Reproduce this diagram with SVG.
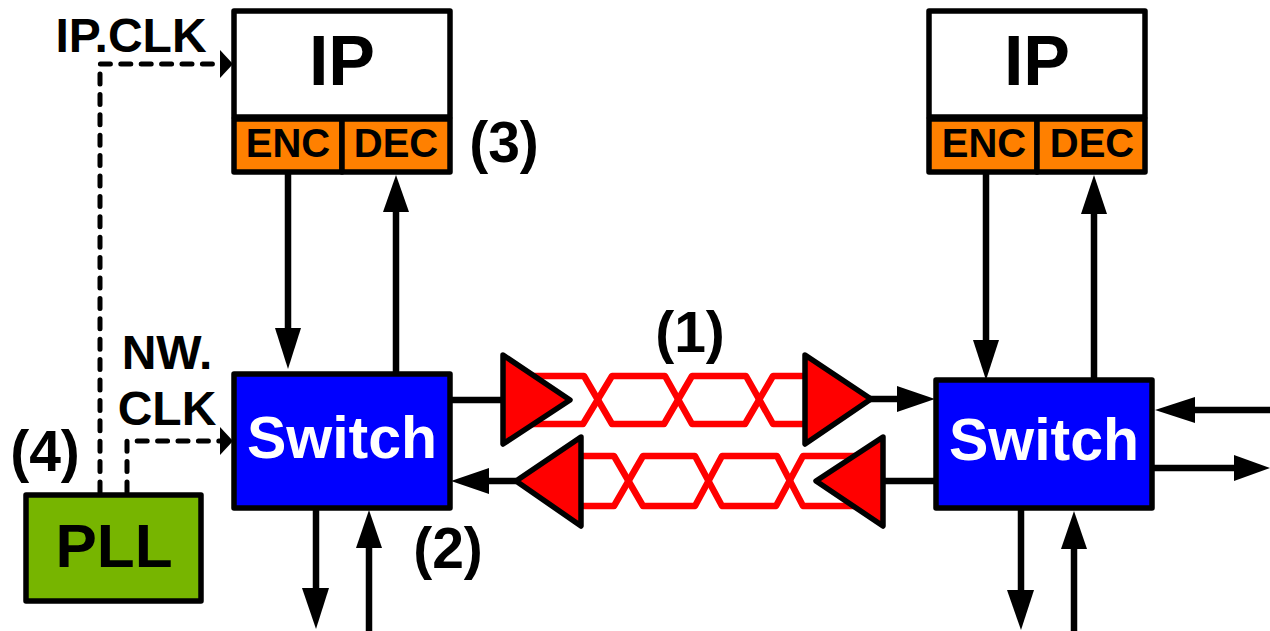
<svg xmlns="http://www.w3.org/2000/svg" width="1270" height="631" viewBox="0 0 1270 631">
<style>
text{font-family:"Liberation Sans",Arial,sans-serif;font-weight:700;text-anchor:middle;fill:#000}
.box{stroke:#000;stroke-width:5.5;stroke-linejoin:round}
.w{fill:#fff}.o{fill:#ff8000}.b{fill:#0000ff}.g{fill:#77b500}
.ip{font-size:70px}.ed{font-size:40px}.sw{font-size:59px;fill:#fff}.pll{font-size:62px}.n{font-size:57px}.l{font-size:48px}
.line{fill:none;stroke:#000;stroke-width:6.5}
.dash{fill:none;stroke:#000;stroke-width:5;stroke-dasharray:10 10.4;stroke-linecap:round;stroke-linejoin:round}
.head{fill:#000}
.wire{fill:none;stroke:#f00;stroke-width:6.5;stroke-linejoin:round}
.tri{fill:#f00;stroke:#000;stroke-width:5.5;stroke-linejoin:round}
</style>
<g id="connectors">
<path class="dash" d="M100 492V64H222"/>
<path class="dash" d="M127 492V441H222"/>
<path class="head" d="M220 50L233 64L220 78Z"/>
<path class="head" d="M220 427L233 441L220 455Z"/>
<path class="line" d="M288 172V335"/><path class="head" d="M275 328H301L288 369Z"/>
<path class="line" d="M396 375V205"/><path class="head" d="M383 212H409L396 175Z"/>
<path class="line" d="M316 508V595"/><path class="head" d="M302 588H329L316 629Z"/>
<path class="line" d="M369 631V540"/><path class="head" d="M356 548H382L369 510Z"/>
<path class="line" d="M986 172V345"/><path class="head" d="M973 340H999L986 380Z"/>
<path class="line" d="M1094 380V205"/><path class="head" d="M1081 214H1107L1094 175Z"/>
<path class="line" d="M1021 508V595"/><path class="head" d="M1007 590H1034L1021 630Z"/>
<path class="line" d="M1074 631V540"/><path class="head" d="M1061 549H1087L1074 511Z"/>
<path class="line" d="M450 400H503"/>
<path class="line" d="M870 399H900"/><path class="head" d="M897 386V412L935 399Z"/>
<path class="line" d="M935 481H885"/>
<path class="line" d="M516 481H485"/><path class="head" d="M489 468V494L451 481Z"/>
<path class="line" d="M1270 410H1190"/><path class="head" d="M1195 397V423L1155 410Z"/>
<path class="line" d="M1152 468H1240"/><path class="head" d="M1234 455V481L1270 468Z"/>
<path class="wire" d="M530 376H584L612 424H664L692 376H746L773 424H810"/>
<path class="wire" d="M530 424H583L612 376H665L692 424H745L773 376H810"/>
<path class="wire" d="M578 456H614L643 506H695L722 456H777L803 506H862"/>
<path class="wire" d="M578 506H614L643 456H695L722 506H776L803 456H862"/>
</g>
<g id="ip-left"><rect class="box w" x="234" y="11" width="216" height="106"/><text class="ip" x="342" y="85">IP</text></g>
<g id="enc-left"><rect class="box o" x="234" y="119" width="108" height="53"/><text class="ed" x="288" y="157">ENC</text></g>
<g id="dec-left"><rect class="box o" x="342" y="119" width="108" height="53"/><text class="ed" x="396" y="157">DEC</text></g>
<g id="ip-right"><rect class="box w" x="929" y="11" width="216" height="106"/><text class="ip" x="1037" y="85">IP</text></g>
<g id="enc-right"><rect class="box o" x="929" y="119" width="108" height="53"/><text class="ed" x="984" y="157">ENC</text></g>
<g id="dec-right"><rect class="box o" x="1037" y="119" width="108" height="53"/><text class="ed" x="1092" y="157">DEC</text></g>
<g id="switch-left"><rect class="box b" x="234" y="374" width="216" height="134"/><text class="sw" x="342" y="458">Switch</text></g>
<g id="switch-right"><rect class="box b" x="936" y="380" width="216" height="128"/><text class="sw" x="1044" y="460">Switch</text></g>
<g id="pll"><rect class="box g" x="26" y="495" width="175" height="106"/><text class="pll" x="114" y="567">PLL</text></g>
<g id="drivers">
<path class="tri" d="M503 355L570 400L503 444Z"/>
<path class="tri" d="M805 355L871 399L805 444Z"/>
<path class="tri" d="M581 437L516 481L581 526Z"/>
<path class="tri" d="M883 437L816 481L883 526Z"/>
</g>
<g id="labels">
<text class="l" x="131" y="52">IP.CLK</text>
<text class="l" x="167" y="369">NW.</text>
<text class="l" x="167" y="425">CLK</text>
<text class="n" x="45" y="471">(4)</text>
<text class="n" x="504" y="162">(3)</text>
<text class="n" x="448" y="568">(2)</text>
<text class="n" x="690" y="352">(1)</text>
</g>
</svg>
